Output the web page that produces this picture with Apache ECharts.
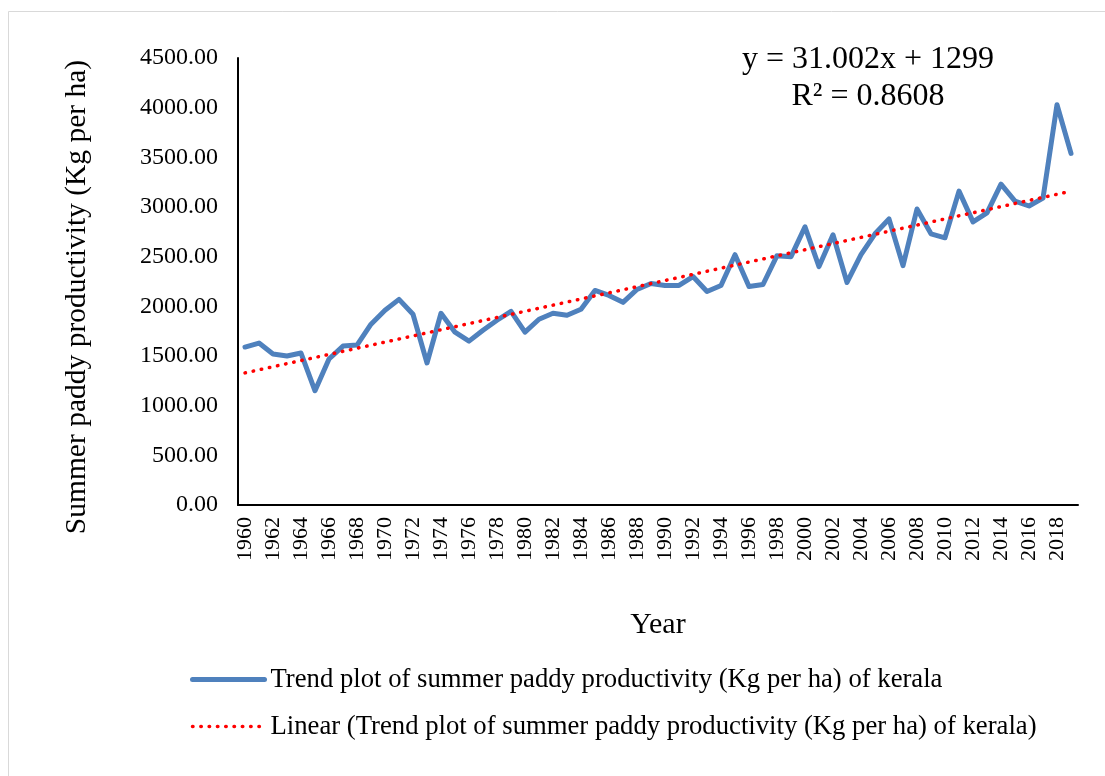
<!DOCTYPE html>
<html>
<head>
<meta charset="utf-8">
<title>Summer paddy productivity of Kerala</title>
<script src="https://cdn.jsdelivr.net/npm/echarts@6/dist/echarts.min.js"></script>
<style>
  html, body { margin: 0; padding: 0; background: #fff; }
  #chart { width: 1105px; height: 776px; }
</style>
</head>
<body>
<div id="chart"></div>
<script>
const years = [];
for (let y = 1960; y <= 2019; y++) years.push(String(y));

// summer paddy productivity, Kg per ha
const productivity = [
  1590, 1630, 1520, 1500, 1530, 1150, 1470, 1600, 1610, 1820,
  1960, 2070, 1920, 1430, 1930, 1740, 1650, 1760, 1860, 1950,
  1740, 1870, 1930, 1910, 1970, 2160, 2110, 2040, 2170, 2230,
  2210, 2210, 2300, 2150, 2210, 2520, 2200, 2220, 2510, 2500,
  2800, 2400, 2720, 2240, 2520, 2730, 2880, 2410, 2980, 2730,
  2690, 3160, 2850, 2940, 3230, 3060, 3010, 3090, 4030, 3540
];

// linear trend end points (y = 31.002x + 1299 at x = 1 and x = 60)
const trendEnds = [1330, 3159];

const yTicks = [0, 4500, 500];

const seriesName = 'Trend plot of summer paddy productivity (Kg per ha) of kerala';
const trendName = 'Linear (Trend plot of summer paddy productivity (Kg per ha) of kerala)';

const chart = echarts.init(document.getElementById('chart'));
const font = '"Liberation Serif", "Times New Roman", serif';

const option = {
  backgroundColor: '#fff',
  textStyle: { fontFamily: font, color: '#000' },
  animation: false,
  graphic: [
    {
      type: 'rect',
      shape: { x: 8.5, y: 11.5, width: 1200, height: 900 },
      style: { fill: 'none', stroke: '#d9d9d9', lineWidth: 1 }
    },
    {
      type: 'text',
      x: 868, y: 60,
      style: { text: 'y = 31.002x + 1299', font: '32px ' + font, fill: '#000', align: 'center', verticalAlign: 'middle' }
    },
    {
      type: 'text',
      x: 868, y: 97,
      style: { text: 'R² = 0.8608', font: '32px ' + font, fill: '#000', align: 'center', verticalAlign: 'middle' }
    },
    {
      // y axis title, placed by hand like the original
      type: 'text',
      x: 77, y: 297,
      rotation: Math.PI / 2,
      style: {
        text: 'Summer paddy productivity (Kg per ha)',
        font: '29.5px ' + font, fill: '#000', align: 'center', verticalAlign: 'middle'
      }
    }
  ],
  grid: { left: 238, right: 27, top: 58, bottom: 271 },
  legend: {
    orient: 'vertical',
    left: 190,
    top: 666,
    padding: 0,
    itemWidth: 72,
    itemHeight: 14,
    itemGap: 20,
    itemStyle: { opacity: 0 },
    lineStyle: { width: 'inherit' },
    textStyle: { fontFamily: font, fontSize: 26.7, color: '#000', padding: [0, 0, 0, 1] },
    data: [seriesName, trendName]
  },
  xAxis: {
    type: 'category',
    data: years,
    boundaryGap: true,
    name: 'Year',
    nameLocation: 'middle',
    nameGap: 105,
    nameTextStyle: { fontFamily: font, fontSize: 30, color: '#000' },
    axisLine: { lineStyle: { color: '#000', width: 2 } },
    axisTick: { show: false },
    axisLabel: {
      interval: 1,
      rotate: 90,
      fontFamily: font,
      fontSize: 22,
      color: '#000',
      margin: 12
    }
  },
  yAxis: {
    type: 'value',
    min: yTicks[0],
    max: yTicks[1],
    interval: yTicks[2],
    axisLine: { show: true, lineStyle: { color: '#000', width: 2 } },
    axisTick: { show: false },
    splitLine: { show: false },
    axisLabel: {
      fontFamily: font,
      fontSize: 24,
      color: '#000',
      margin: 20,
      formatter: v => v.toFixed(2)
    }
  },
  series: [
    {
      name: seriesName,
      type: 'line',
      data: productivity,
      symbol: 'none',
      lineStyle: { color: '#4f81bd', width: 5, join: 'round', cap: 'round' },
      itemStyle: { color: '#4f81bd' },
      z: 2
    },
    {
      name: trendName,
      type: 'line',
      data: [[years[0], trendEnds[0]], [years[years.length - 1], trendEnds[1]]],
      symbol: 'none',
      lineStyle: { color: '#ff0000', width: 3.5, type: [0.5, 7.8], cap: 'round' },
      itemStyle: { color: '#ff0000' },
      z: 3
    }
  ]
};

chart.setOption(option);
</script>
</body>
</html>
